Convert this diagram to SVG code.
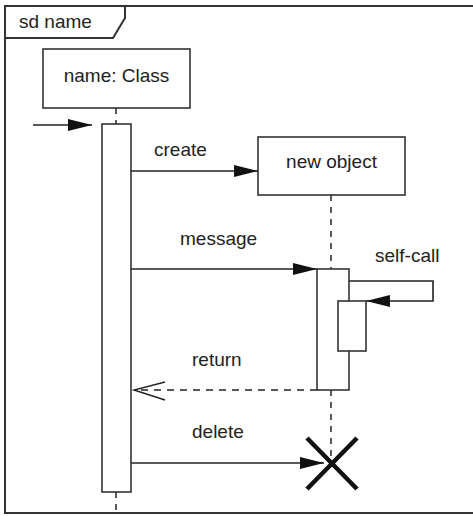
<svg xmlns="http://www.w3.org/2000/svg" width="473" height="516" viewBox="0 0 473 516">
<style>
text{font-family:"Liberation Sans",Arial,sans-serif;font-size:19px;fill:#222}
.box{fill:#fff;stroke:#333;stroke-width:1.6}
.ln{fill:none;stroke:#333;stroke-width:1.6}
.life{fill:none;stroke:#333;stroke-width:1.6;stroke-dasharray:6,6}
.msg{fill:none;stroke:#222;stroke-width:1.6;marker-end:url(#fill)}
</style>
<defs>
<marker id="fill" markerUnits="userSpaceOnUse" markerWidth="26" markerHeight="16" refX="24" refY="7" orient="auto">
<path d="M0,1 L24,7 L0,13 Z" fill="#111"/>
</marker>
</defs>
<rect width="473" height="516" fill="#fff"/>
<g id="frame">
<rect x="5" y="6" width="472" height="507" fill="none" stroke="#333" stroke-width="2"/>
<path d="M5,6 H125 V18 L113,38 H5" fill="none" stroke="#333" stroke-width="2"/>
<text x="19" y="28">sd name</text>
</g>
<g id="connectors">
<path class="life" d="M116,108 V124"/>
<path class="life" d="M331,195 V269"/>
<path class="life" d="M331,390 V460"/>
<path class="life" d="M116,492 V513"/>
<path class="msg" d="M33,125 H92"/>
<path class="msg" d="M131,171 H258"/>
<path class="msg" d="M131,269 H317"/>
<path class="msg" d="M349,281 H433 V301 H366"/>
<path d="M317,390 H135" fill="none" stroke="#222" stroke-width="1.6" stroke-dasharray="7,6"/>
<path d="M165,382 L134,390 L165,400" fill="none" stroke="#222" stroke-width="1.4"/>
<path class="msg" d="M131,463 H324"/>
</g>
<g id="name-class">
<rect class="box" x="43" y="49" width="147" height="59"/>
<text x="116.5" y="82" text-anchor="middle">name: Class</text>
</g>
<g id="activation-class">
<rect class="box" x="102" y="124" width="29" height="368"/>
</g>
<g id="new-object">
<rect class="box" x="258" y="137" width="147" height="58"/>
<text x="331.5" y="168" text-anchor="middle">new object</text>
</g>
<g id="activation-object">
<rect class="box" x="317" y="269" width="32" height="121"/>
</g>
<g id="activation-self">
<rect class="box" x="338" y="301" width="28" height="50"/>
</g>
<g id="destroy">
<path d="M307,438 L357,489 M357,438 L307,489" stroke="#111" stroke-width="4.5" fill="none"/>
</g>
<g id="labels">
<text x="154" y="156">create</text>
<text x="180" y="245">message</text>
<text x="375" y="262">self-call</text>
<text x="192" y="366">return</text>
<text x="192" y="438">delete</text>
</g>
</svg>
